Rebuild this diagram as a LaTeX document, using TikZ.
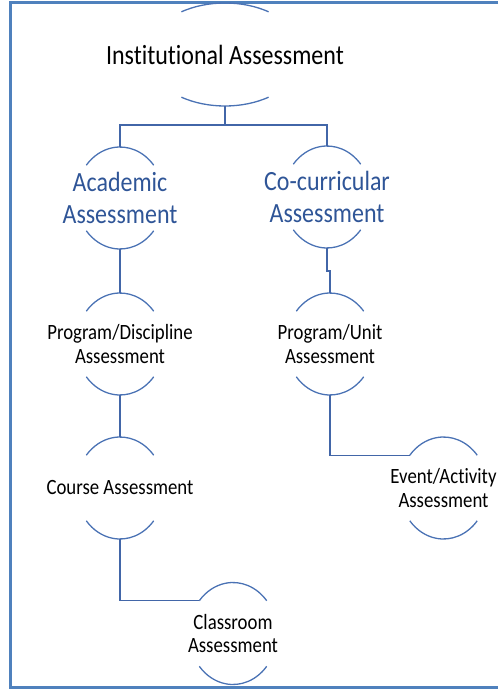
\documentclass[tikz,border=0pt]{standalone}
\usepackage{fontspec}
\usetikzlibrary{calc}
\newfontfamily\bubblefont[FakeStretch=0.862, Ligatures=NoCommon]{Carlito}
\definecolor{arcblue}{RGB}{74,114,180}
\definecolor{linkblue}{RGB}{66,102,168}
\definecolor{frameblue}{RGB}{79,129,189}
\definecolor{headblue}{RGB}{47,85,151}
% two arcs round a node, with its top, bottom and top-left end as coordinates
\newcommand{\Bubble}[4]{%
  \coordinate (#1-top) at ($(#1.center)+(0,#3)$);
  \coordinate (#1-bot) at ($(#1.center)-(0,#3)$);
  \coordinate (#1-tl) at ($(#1.center)+(180-#4:#2 and #3)$);
  \draw[bubble] ($(#1.center)+(#4:#2 and #3)$) arc[start angle=#4, end angle=180-#4, x radius=#2, y radius=#3];
  \draw[bubble] ($(#1.center)+(-#4:#2 and #3)$) arc[start angle=-#4, end angle=-180+#4, x radius=#2, y radius=#3];
}
\tikzset{
    bubble/.style={draw=arcblue, line width=1.3pt},
    link/.style={draw=linkblue, line width=1.3pt},
    frame/.style={draw=frameblue, line width=2.4pt},
    toptext/.style={font=\bubblefont\fontsize{27.8}{32}\selectfont, inner sep=0pt},
    headtext/.style={font=\bubblefont\fontsize{27.8}{32}\selectfont, text=headblue, align=center, inner sep=0pt},
    itemtext/.style={font=\bubblefont\fontsize{21.8}{23.5}\selectfont, align=center, inner sep=0pt},
}

\begin{document}
\begin{tikzpicture}[x=1pt, y=1pt]
    \useasboundingbox (0,0) rectangle (498,-690);
    \draw[frame] (498,-2.5) -- (10.5,-2.5) -- (10.5,-687.5) -- (498,-687.5);

    \node[toptext] (inst) at (225,-54.5) {Institutional Assessment};
    \node[headtext] (acad) at (120,-198) {Academic\\Assessment};
    \node[headtext] (cocur) at (327,-197) {Co-curricular\\Assessment};
    \node[itemtext] (prog) at (120,-344) {Program/Discipline\\Assessment};
    \node[itemtext] (unit) at (330,-344) {Program/Unit\\Assessment};
    \node[itemtext] (course) at (120,-488) {Course Assessment};
    \node[itemtext] (event) at (443.5,-488) {Event/Activity\\Assessment};
    \node[itemtext] (class) at (233,-633.5) {Classroom\\Assessment};

    \Bubble{inst}{78pt}{51.5pt}{56}
    \Bubble{acad}{44pt}{51pt}{40}
    \Bubble{cocur}{44pt}{51pt}{40}
    \Bubble{prog}{44pt}{51pt}{40}
    \Bubble{unit}{44pt}{51pt}{40}
    \Bubble{course}{44pt}{51pt}{40}
    \Bubble{event}{44pt}{51pt}{40}
    \Bubble{class}{44pt}{51pt}{40}

    \draw[link] (inst-bot) -- ++(0,-19) -| (acad-top);
    \draw[link] (inst-bot) -- ++(0,-19) -| (cocur-top);
    \draw[link] (acad-bot) -- (prog-top);
    \draw[link] (cocur-bot) -- ++(0,-23) -| (unit-top);
    \draw[link] (prog-bot) -- (course-top);
    \draw[link] (unit-bot) |- (event-tl);
    \draw[link] (course-bot) |- (class-tl);
\end{tikzpicture}
\end{document}
